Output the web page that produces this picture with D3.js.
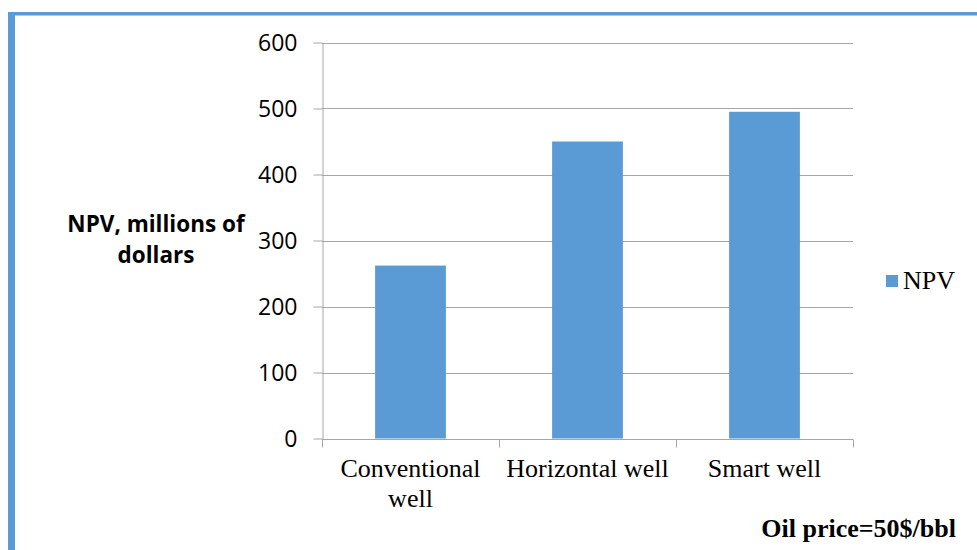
<!DOCTYPE html>
<html>
<head>
<meta charset="utf-8">
<script src="https://cdn.jsdelivr.net/npm/d3@7"></script>
<style>
  html, body { margin: 0; padding: 0; background: #fff; }
  svg { display: block; }
</style>
</head>
<body>
<svg id="chart" width="977" height="550"></svg>
<script>
// ---- data ----
const categories = [["Conventional", "well"], ["Horizontal well"], ["Smart well"]];
const categoryKeys = ["Conventional well", "Horizontal well", "Smart well"];
const npvValues = [262, 450, 495];
const yTicks = [0, 100, 200, 300, 400, 500, 600];
const seriesName = "NPV";
const yTitleLines = ["NPV, millions of", "dollars"];
const noteText = "Oil price=50$/bbl";

// ---- layout ----
const svg = d3.select("#chart");
const blue = "#5B9BD5";
const axisGray = "#A6A6A6";
const sans = "'Open Sans', 'Noto Sans', sans-serif";
const serif = "'Liberation Serif', 'Times New Roman', serif";

// frame border (left and top)
svg.append("rect").attr("x", 8).attr("y", 12).attr("width", 977 - 8).attr("height", 3.5).attr("fill", blue);
svg.append("rect").attr("x", 8).attr("y", 12).attr("width", 7).attr("height", 550 - 12).attr("fill", blue);

const x0 = 322, x1 = 853, yTop = 42.5, yBot = 438.5;
const x = d3.scaleBand().domain(categoryKeys).range([x0, x1]).padding(0);
const y = d3.scaleLinear().domain([0, 600]).range([yBot, yTop]);

// gridlines
svg.append("g").selectAll("line").data(yTicks.filter(d => d > 0)).join("line")
  .attr("x1", x0).attr("x2", x1)
  .attr("y1", d => Math.round(y(d)) + 0.5).attr("y2", d => Math.round(y(d)) + 0.5)
  .attr("stroke", axisGray).attr("stroke-width", 1);

// bars
const barW = x.bandwidth() * 0.4;
svg.append("g").selectAll("rect").data(npvValues).join("rect")
  .attr("x", (d, i) => x(categoryKeys[i]) + (x.bandwidth() - barW) / 2)
  .attr("width", barW)
  .attr("y", d => y(d))
  .attr("height", d => y(0) - y(d))
  .attr("fill", blue);

// y axis
const yAxis = d3.axisLeft(y).tickValues(yTicks).tickSize(9).tickPadding(16).tickSizeOuter(0);
const gy = svg.append("g").attr("transform", `translate(${x0 + 0.5},0)`).call(yAxis);
gy.select(".domain").attr("stroke", axisGray);
gy.selectAll(".tick line").attr("stroke", axisGray);
gy.selectAll(".tick text").attr("font-family", sans).attr("font-size", 23).attr("fill", "#000").attr("dy", "0.36em");

// x axis
const gx = svg.append("g").attr("transform", `translate(0,${Math.round(yBot) + 0.5})`);
gx.append("line").attr("x1", x0).attr("x2", x1).attr("stroke", axisGray);
const tickXs = categoryKeys.map(k => x(k)).concat([x1]);
gx.selectAll("line.tk").data(tickXs).join("line").attr("class", "tk")
  .attr("x1", d => Math.round(d) + 0.5).attr("x2", d => Math.round(d) + 0.5)
  .attr("y1", 0).attr("y2", 8).attr("stroke", axisGray);
const labels = svg.append("g").selectAll("text").data(categories).join("text")
  .attr("x", (d, i) => x(categoryKeys[i]) + x.bandwidth() / 2)
  .attr("y", 477)
  .attr("text-anchor", "middle")
  .attr("font-family", serif).attr("font-size", 26).attr("fill", "#000");
labels.selectAll("tspan").data(d => d).join("tspan")
  .attr("x", function () { return d3.select(this.parentNode).attr("x"); })
  .attr("dy", (d, i) => i === 0 ? 0 : 30)
  .text(d => d);

// y title
svg.append("text").attr("text-anchor", "middle")
  .attr("font-family", sans).attr("font-weight", "bold").attr("font-size", 22.5).attr("fill", "#000")
  .selectAll("tspan").data(yTitleLines).join("tspan")
  .attr("x", 156).attr("y", (d, i) => 232 + i * 31).text(d => d);

// legend
svg.append("rect").attr("x", 886).attr("y", 275).attr("width", 12).attr("height", 12).attr("fill", blue);
svg.append("text").attr("x", 903).attr("y", 289)
  .attr("font-family", serif).attr("font-size", 26).attr("fill", "#000").text(seriesName);

// note
svg.append("text").attr("x", 956).attr("y", 537).attr("text-anchor", "end")
  .attr("font-family", serif).attr("font-weight", "bold").attr("font-size", 26).attr("fill", "#000").text(noteText);
</script>
</body>
</html>
